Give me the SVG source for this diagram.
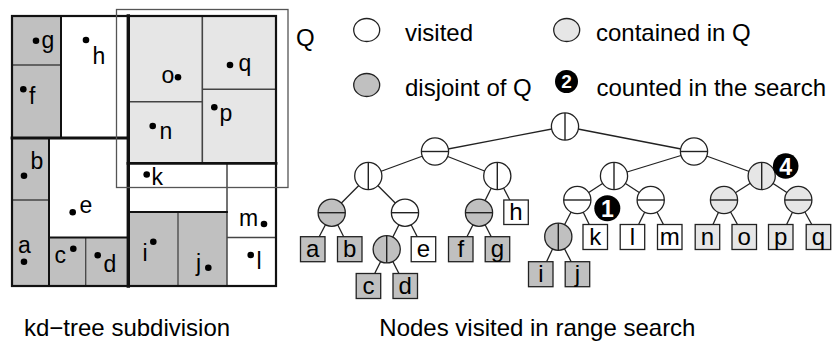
<svg xmlns="http://www.w3.org/2000/svg" width="838" height="342" viewBox="0 0 838 342">
  <style>
    text { font-family: "Liberation Sans", Arial, sans-serif; fill: #000; }
    .lbl { font-size: 23px; }
    .cap { font-size: 24px; }
    .dis { fill: #c0c0c0; }
    .con { fill: #e6e6e6; }
    .vis { fill: #ffffff; }
    .cut { stroke: #111; fill: none; stroke-linecap: square; }
    .thin { stroke: #444; fill: none; }
    .pt { fill: #000; }
    .node { stroke: #222; stroke-width: 1.3; }
    .split { stroke: #222; stroke-width: 1.4; }
    .leaf { stroke: #222; stroke-width: 1.3; }
    .leaftxt { font-size: 24px; text-anchor: middle; }
    .edge { stroke: #222; stroke-width: 1.3; fill: none; }
    .badge { fill: #000; }
    .badgetxt { fill: #fff; font-weight: bold; text-anchor: middle; }
  </style>

  <!-- ===== kd-tree subdivision of the plane ===== -->
  <g id="subdivision">
    <!-- cells -->
    <rect id="cell-g" class="dis" x="12" y="16" width="49" height="49"/>
    <rect id="cell-f" class="dis" x="12" y="65" width="49" height="73"/>
    <rect id="cell-h" class="vis" x="61" y="16" width="67" height="122"/>
    <rect id="cell-b" class="dis" x="12" y="138" width="37" height="62"/>
    <rect id="cell-a" class="dis" x="12" y="200" width="37" height="86"/>
    <rect id="cell-e" class="vis" x="49" y="138" width="79" height="99.5"/>
    <rect id="cell-c" class="dis" x="49" y="237.5" width="36.7" height="48.5"/>
    <rect id="cell-d" class="dis" x="85.7" y="237.5" width="42.6" height="48.5"/>
    <rect id="cell-o" class="con" x="128.3" y="16" width="74" height="85.7"/>
    <rect id="cell-n" class="con" x="128.3" y="101.7" width="74" height="61.6"/>
    <rect id="cell-q" class="con" x="202.3" y="16" width="73.7" height="73.3"/>
    <rect id="cell-p" class="con" x="202.3" y="89.3" width="73.7" height="74"/>
    <rect id="cell-k" class="vis" x="128.3" y="163.3" width="98.7" height="48.7"/>
    <rect id="cell-i" class="dis" x="128.3" y="212" width="49.7" height="74"/>
    <rect id="cell-j" class="dis" x="178" y="212" width="49" height="74"/>
    <rect id="cell-m" class="vis" x="227" y="163.3" width="49" height="74.2"/>
    <rect id="cell-l" class="vis" x="227" y="237.5" width="49" height="48.5"/>

    <!-- splitting lines, heavier for shallower levels -->
    <line class="thin" x1="12" y1="65" x2="61" y2="65" stroke-width="1.5"/>
    <line class="thin" x1="12" y1="200" x2="49" y2="200" stroke-width="1.5"/>
    <line class="thin" x1="85.7" y1="237.5" x2="85.7" y2="286" stroke-width="1.3"/>
    <line class="thin" x1="128" y1="101.7" x2="202.3" y2="101.7" stroke-width="1.5"/>
    <line class="thin" x1="202.3" y1="89.3" x2="276" y2="89.3" stroke-width="1.5"/>
    <line class="thin" x1="178" y1="212" x2="178" y2="286" stroke-width="1.3"/>
    <line class="thin" x1="227" y1="237.5" x2="276" y2="237.5" stroke-width="1.3"/>
    <line class="thin" x1="227" y1="163.3" x2="227" y2="286" stroke-width="1.5"/>
    <line class="thin" x1="202.3" y1="16" x2="202.3" y2="163.3" stroke-width="1.6"/>
    <line class="cut" x1="49" y1="237.5" x2="128" y2="237.5" stroke-width="1.8"/>
    <line class="cut" x1="128" y1="212" x2="227" y2="212" stroke-width="1.8"/>
    <line class="cut" x1="61" y1="16" x2="61" y2="138" stroke-width="2"/>
    <line class="cut" x1="49" y1="138" x2="49" y2="286" stroke-width="2"/>
    <line class="cut" x1="12" y1="138" x2="128" y2="138" stroke-width="2.8"/>
    <line class="cut" x1="128" y1="163.3" x2="276" y2="163.3" stroke-width="2.8"/>
    <line class="cut" x1="128.3" y1="16" x2="128.3" y2="286" stroke-width="3.4"/>
    <rect class="cut" x="12" y="16" width="264" height="270" stroke-width="2.2"/>

    <!-- query range -->
    <rect id="query" x="116.5" y="9.5" width="171.5" height="178" fill="none" stroke="#555" stroke-width="1.3"/>
    <text class="cap" x="296" y="46">Q</text>

    <!-- data points -->
    <g id="points">
      <circle class="pt" cx="36" cy="40.7" r="3.3"/><text class="lbl" x="41.5" y="48">g</text>
      <circle class="pt" cx="86" cy="40" r="3.3"/><text class="lbl" x="92.5" y="64">h</text>
      <circle class="pt" cx="23.3" cy="89.3" r="3.3"/><text class="lbl" x="29" y="104">f</text>
      <circle class="pt" cx="178" cy="77.3" r="3.3"/><text class="lbl" x="161.5" y="83.3">o</text>
      <circle class="pt" cx="230" cy="65" r="3.3"/><text class="lbl" x="238.5" y="71">q</text>
      <circle class="pt" cx="214.3" cy="107.3" r="3.3"/><text class="lbl" x="219.5" y="120.5">p</text>
      <circle class="pt" cx="152.7" cy="126" r="3.3"/><text class="lbl" x="159.5" y="139">n</text>
      <circle class="pt" cx="146.7" cy="174.5" r="3.3"/><text class="lbl" x="151.5" y="184.5" font-size="20">k</text>
      <circle class="pt" cx="24" cy="175.7" r="3.3"/><text class="lbl" x="30.5" y="169">b</text>
      <circle class="pt" cx="24" cy="261.7" r="3.3"/><text class="lbl" x="18" y="253">a</text>
      <circle class="pt" cx="72.7" cy="212.3" r="3.3"/><text class="lbl" x="79.5" y="213">e</text>
      <circle class="pt" cx="73.3" cy="248.7" r="3.3"/><text class="lbl" x="54.5" y="262.5">c</text>
      <circle class="pt" cx="97.7" cy="255.3" r="3.3"/><text class="lbl" x="103.5" y="271.5">d</text>
      <circle class="pt" cx="153.3" cy="241.7" r="3.3"/><text class="lbl" x="142.5" y="261">i</text>
      <circle class="pt" cx="208.3" cy="267.7" r="3.3"/><text class="lbl" x="196" y="271">j</text>
      <circle class="pt" cx="264" cy="224" r="3.3"/><text class="lbl" x="239" y="226">m</text>
      <circle class="pt" cx="250.7" cy="255" r="3.3"/><text class="lbl" x="256.5" y="269">l</text>
    </g>
  </g>

  <!-- ===== legend ===== -->
  <g id="legend">
    <ellipse class="vis node" cx="366.7" cy="30" rx="13" ry="11.5"/>
    <text class="cap" x="405" y="41">visited</text>
    <ellipse class="con node" cx="566.7" cy="30" rx="13" ry="11.5"/>
    <text class="cap" x="596" y="41">contained in Q</text>
    <ellipse class="dis node" cx="366.7" cy="85" rx="13" ry="11.5"/>
    <text class="cap" x="405" y="96">disjoint of Q</text>
    <circle class="badge" cx="566.5" cy="81.5" r="11.5"/>
    <text class="badgetxt" x="566.5" y="88.3" font-size="19">2</text>
    <text class="cap" x="596.5" y="96">counted in the search</text>
  </g>

  <!-- ===== tree edges ===== -->
  <g id="edges" class="edge">
    <line x1="565" y1="126.5" x2="435" y2="151.5"/>
    <line x1="565" y1="126.5" x2="694" y2="151.5"/>
    <line x1="435" y1="151.5" x2="368.3" y2="176"/>
    <line x1="435" y1="151.5" x2="497.3" y2="176"/>
    <line x1="368.3" y1="176" x2="331.7" y2="212.7"/>
    <line x1="368.3" y1="176" x2="405" y2="212.7"/>
    <line x1="331.7" y1="212.7" x2="312.8" y2="249"/>
    <line x1="331.7" y1="212.7" x2="349.8" y2="249"/>
    <line x1="405" y1="212.7" x2="386.7" y2="249.3"/>
    <line x1="405" y1="212.7" x2="423.5" y2="249"/>
    <line x1="386.7" y1="249.3" x2="368.5" y2="286"/>
    <line x1="386.7" y1="249.3" x2="405.2" y2="286"/>
    <line x1="497.3" y1="176" x2="479" y2="212.7"/>
    <line x1="497.3" y1="176" x2="516" y2="212"/>
    <line x1="479" y1="212.7" x2="460.8" y2="249"/>
    <line x1="479" y1="212.7" x2="497.5" y2="249"/>
    <line x1="694" y1="151.5" x2="614" y2="176"/>
    <line x1="694" y1="151.5" x2="761.7" y2="176"/>
    <line x1="614" y1="176" x2="577.3" y2="200"/>
    <line x1="614" y1="176" x2="650.7" y2="200"/>
    <line x1="577.3" y1="200" x2="558.3" y2="236.7"/>
    <line x1="577.3" y1="200" x2="595.2" y2="236.8"/>
    <line x1="558.3" y1="236.7" x2="540.8" y2="274"/>
    <line x1="558.3" y1="236.7" x2="577.5" y2="274"/>
    <line x1="650.7" y1="200" x2="632.5" y2="236.8"/>
    <line x1="650.7" y1="200" x2="669.8" y2="236.8"/>
    <line x1="761.7" y1="176" x2="724" y2="200"/>
    <line x1="761.7" y1="176" x2="798.3" y2="200"/>
    <line x1="724" y1="200" x2="707.5" y2="236.8"/>
    <line x1="724" y1="200" x2="744.2" y2="236.8"/>
    <line x1="798.3" y1="200" x2="780.8" y2="236.8"/>
    <line x1="798.3" y1="200" x2="818.5" y2="236.8"/>
  </g>

  <!-- ===== inner nodes: circle with its splitting direction ===== -->
  <defs>
    <g id="vsplit">
      <line class="split" x1="0" y1="-13.5" x2="0" y2="13.5"/>
    </g>
    <g id="hsplit">
      <line class="split" x1="-13.5" y1="0" x2="13.5" y2="0"/>
    </g>
  </defs>

  <g id="n-root"><circle class="vis node" cx="565" cy="126.5" r="13.6"/><use href="#vsplit" x="565" y="126.5"/></g>
  <g id="n-L"><circle class="vis node" cx="435" cy="151.5" r="13.6"/><use href="#hsplit" x="435" y="151.5"/></g>
  <g id="n-R"><circle class="vis node" cx="694" cy="151.5" r="13.6"/><use href="#hsplit" x="694" y="151.5"/></g>
  <g id="n-LL"><circle class="vis node" cx="368.3" cy="176" r="13.6"/><use href="#vsplit" x="368.3" y="176"/></g>
  <g id="n-LR"><circle class="vis node" cx="497.3" cy="176" r="13.6"/><use href="#vsplit" x="497.3" y="176"/></g>
  <g id="n-RL"><circle class="vis node" cx="614" cy="176" r="13.6"/><use href="#vsplit" x="614" y="176"/></g>
  <g id="n-RR"><circle class="con node" cx="761.7" cy="176" r="13.6"/><use href="#vsplit" x="761.7" y="176"/></g>
  <g id="n-ab"><circle class="dis node" cx="331.7" cy="212.7" r="13.6"/><use href="#hsplit" x="331.7" y="212.7"/></g>
  <g id="n-cde"><circle class="vis node" cx="405" cy="212.7" r="13.6"/><use href="#hsplit" x="405" y="212.7"/></g>
  <g id="n-cd"><circle class="dis node" cx="386.7" cy="249.3" r="13.6"/><use href="#vsplit" x="386.7" y="249.3"/></g>
  <g id="n-fg"><circle class="dis node" cx="479" cy="212.7" r="13.6"/><use href="#hsplit" x="479" y="212.7"/></g>
  <g id="n-ijk"><circle class="vis node" cx="577.3" cy="200" r="13.6"/><use href="#hsplit" x="577.3" y="200"/></g>
  <g id="n-ij"><circle class="dis node" cx="558.3" cy="236.7" r="13.6"/><use href="#vsplit" x="558.3" y="236.7"/></g>
  <g id="n-lm"><circle class="vis node" cx="650.7" cy="200" r="13.6"/><use href="#hsplit" x="650.7" y="200"/></g>
  <g id="n-no"><circle class="con node" cx="724" cy="200" r="13.6"/><use href="#hsplit" x="724" y="200"/></g>
  <g id="n-pq"><circle class="con node" cx="798.3" cy="200" r="13.6"/><use href="#hsplit" x="798.3" y="200"/></g>

  <!-- ===== leaves ===== -->
  <g id="leaf-a"><rect class="dis leaf" x="300.5" y="236.7" width="24.5" height="25"/><text class="leaftxt" x="312.8" y="257">a</text></g>
  <g id="leaf-b"><rect class="dis leaf" x="337.5" y="236.7" width="24.5" height="25"/><text class="leaftxt" x="349.8" y="257">b</text></g>
  <g id="leaf-e"><rect class="vis leaf" x="411.2" y="236.7" width="24.5" height="25"/><text class="leaftxt" x="423.5" y="257">e</text></g>
  <g id="leaf-f"><rect class="dis leaf" x="448.5" y="236.7" width="24.5" height="25"/><text class="leaftxt" x="460.8" y="257">f</text></g>
  <g id="leaf-g"><rect class="dis leaf" x="485.2" y="236.7" width="24.5" height="25"/><text class="leaftxt" x="497.5" y="257">g</text></g>
  <g id="leaf-h"><rect class="vis leaf" x="503.8" y="200" width="24.5" height="24.5"/><text class="leaftxt" x="516" y="220">h</text></g>
  <g id="leaf-c"><rect class="dis leaf" x="356.2" y="273.5" width="24.5" height="25"/><text class="leaftxt" x="368.5" y="294">c</text></g>
  <g id="leaf-d"><rect class="dis leaf" x="393" y="273.5" width="24.5" height="25"/><text class="leaftxt" x="405.2" y="294">d</text></g>
  <g id="leaf-i"><rect class="dis leaf" x="528.5" y="261.7" width="24.5" height="25"/><text class="leaftxt" x="540.8" y="282">i</text></g>
  <g id="leaf-j"><rect class="dis leaf" x="565.2" y="261.7" width="24.5" height="25"/><text class="leaftxt" x="577.5" y="282">j</text></g>
  <g id="leaf-k"><rect class="vis leaf" x="583" y="224.5" width="24.5" height="25"/><text class="leaftxt" x="595.2" y="245">k</text></g>
  <g id="leaf-l"><rect class="vis leaf" x="620.2" y="224.5" width="24.5" height="25"/><text class="leaftxt" x="632.5" y="245">l</text></g>
  <g id="leaf-m"><rect class="vis leaf" x="657.5" y="224.5" width="24.5" height="25"/><text class="leaftxt" x="669.8" y="245">m</text></g>
  <g id="leaf-n"><rect class="con leaf" x="695.2" y="224.5" width="24.5" height="25"/><text class="leaftxt" x="707.5" y="245">n</text></g>
  <g id="leaf-o"><rect class="con leaf" x="732" y="224.5" width="24.5" height="25"/><text class="leaftxt" x="744.2" y="245">o</text></g>
  <g id="leaf-p"><rect class="con leaf" x="768.5" y="224.5" width="24.5" height="25"/><text class="leaftxt" x="780.8" y="245">p</text></g>
  <g id="leaf-q"><rect class="con leaf" x="806.2" y="224.5" width="24.5" height="25"/><text class="leaftxt" x="818.5" y="245">q</text></g>

  <!-- ===== search counters ===== -->
  <g id="badge-1"><circle class="badge" cx="607.3" cy="208.3" r="13"/><text class="badgetxt" x="607.3" y="216.8" font-size="23">1</text></g>
  <g id="badge-4"><circle class="badge" cx="785.7" cy="166" r="12.8"/><text class="badgetxt" x="785.7" y="174.5" font-size="23">4</text></g>

  <!-- ===== captions ===== -->
  <text class="cap" x="24" y="336">kd−tree subdivision</text>
  <text class="cap" x="379.3" y="336">Nodes visited in range search</text>
</svg>
